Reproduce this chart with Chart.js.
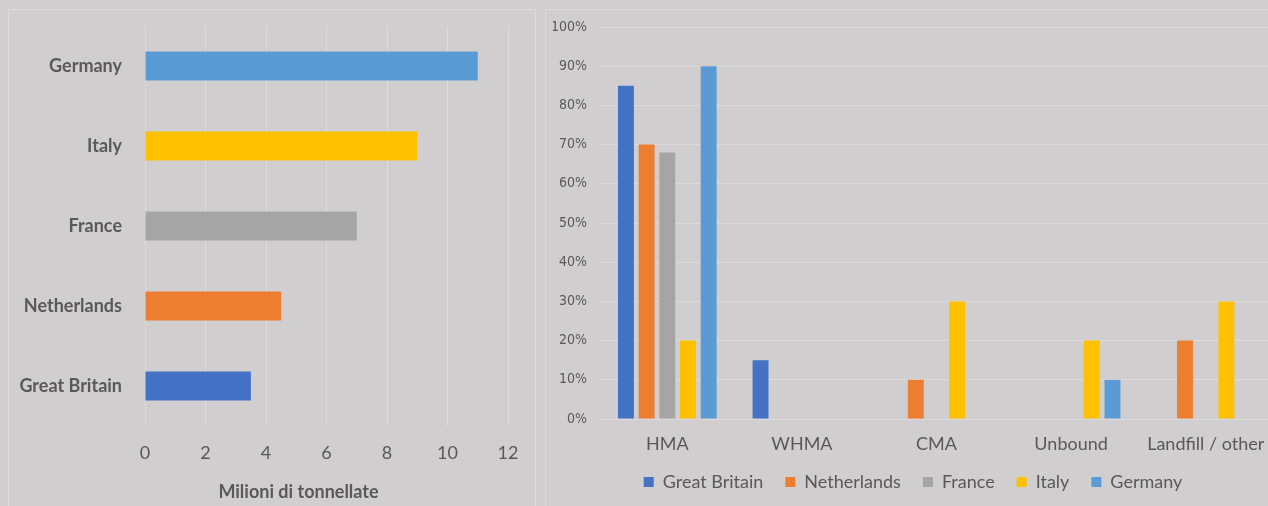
<!DOCTYPE html>
<html>
<head>
<meta charset="utf-8">
<script src="https://cdn.jsdelivr.net/npm/chart.js@4"></script>
<style>
  html, body { margin: 0; padding: 0; width: 1268px; height: 506px; overflow: hidden; background: #d0cecf; }
  .panel { position: absolute; border: 1px solid #dcdada; box-sizing: border-box; }
  canvas { position: absolute; top: 0; }
</style>
</head>
<body>
<div class="panel" style="left:8px; top:9px; width:528px; height:510px;"></div>
<div class="panel" style="left:545px; top:9px; width:740px; height:510px;"></div>
<canvas id="tonnesChart" width="540" height="506" style="left:0"></canvas>
<canvas id="shareChart" width="728" height="501" style="left:545px"></canvas>
<script>
// countries, bottom to top in the left chart, and in legend order
const countries = ["Great Britain", "Netherlands", "France", "Italy", "Germany"];
const countryColors = ["#4472c4", "#ed7d31", "#a5a5a5", "#ffc000", "#5b9bd5"];

// million tonnes per country
const tonnes = [3.5, 4.5, 7, 9, 11];
const tonnesTicks = [0, 2, 4, 6, 8, 10, 12];
const tonnesTitle = "Milioni di tonnellate";

// share of use, per category, one array per country
const uses = ["HMA", "WHMA", "CMA", "Unbound", "Landfill / other"];
const greatBritain = [85, 15, 0, 0, 0];
const netherlands = [70, 0, 10, 0, 20];
const france = [68, 0, 0, 0, 0];
const italy = [20, 0, 30, 20, 30];
const germany = [90, 0, 0, 10, 0];
const shareTicks = [0, 10, 20, 30, 40, 50, 60, 70, 80, 90, 100];

const textColor = "#595959";
const gridColor = "#dcdada";
const mainFont = "Lato, 'Open Sans', sans-serif";
const narrowFont = "'Liberation Sans Narrow', 'DejaVu Sans Condensed', sans-serif";

// no extra room for the outer tick labels, the plot areas are set by hand
const noScalePadding = (scale) => {
    scale.paddingTop = 0;
    scale.paddingBottom = 0;
    scale.paddingLeft = 0;
    scale.paddingRight = 0;
};

// axis title of the left chart sits a bit left of the plot centre
const axisTitlePlugin = {
    id: "axisTitle",
    afterDraw(chart) {
        const { ctx, chartArea } = chart;
        ctx.save();
        ctx.font = "bold 18px " + mainFont;
        ctx.fillStyle = textColor;
        ctx.textAlign = "center";
        ctx.textBaseline = "middle";
        ctx.fillText(tonnesTitle, (chartArea.left + chartArea.right) / 2 - 28, chartArea.bottom + 66);
        ctx.restore();
    }
};

// Left chart: horizontal bars
new Chart(document.getElementById("tonnesChart"), {
    type: "bar",
    data: {
        labels: countries,
        datasets: [{
            data: tonnes,
            backgroundColor: countryColors,
            categoryPercentage: 1,
            barPercentage: 0.36,
        }]
    },
    options: {
        indexAxis: "y",
        responsive: false,
        animation: false,
        layout: { padding: { top: 26, right: 32, left: 0, bottom: 0 } },
        plugins: { legend: { display: false }, tooltip: { enabled: false } },
        scales: {
            y: {
                reverse: true,
                grid: { display: false, drawTicks: false },
                border: { display: false },
                ticks: { color: textColor, padding: 23, font: { family: mainFont, size: 18, weight: "bold" } },
                afterFit: (scale) => { noScalePadding(scale); scale.width = 145; },
            },
            x: {
                min: 0,
                max: 12,
                afterBuildTicks: (scale) => { scale.ticks = tonnesTicks.map(v => ({ value: v })); },
                grid: { color: gridColor, drawTicks: false },
                border: { display: false },
                ticks: { color: textColor, padding: 16, font: { family: mainFont, size: 18 } },
                afterFit: (scale) => { noScalePadding(scale); scale.height = 80; },
            }
        }
    },
    plugins: [axisTitlePlugin]
});

// Right chart: grouped vertical bars
const shareSeries = [greatBritain, netherlands, france, italy, germany];

new Chart(document.getElementById("shareChart"), {
    type: "bar",
    data: {
        labels: uses,
        datasets: countries.map((name, i) => ({
            label: name,
            data: shareSeries[i],
            backgroundColor: countryColors[i],
            categoryPercentage: 0.768,
            barPercentage: 0.77,
        }))
    },
    options: {
        responsive: false,
        animation: false,
        layout: { padding: { top: 27, right: 0, left: 8, bottom: 0 } },
        plugins: {
            tooltip: { enabled: false },
            legend: {
                position: "bottom",
                labels: {
                    color: textColor,
                    boxWidth: 10,
                    boxHeight: 10,
                    padding: 22,
                    font: { family: mainFont, size: 18 },
                }
            }
        },
        scales: {
            x: {
                grid: { display: false, drawTicks: false },
                border: { display: false },
                ticks: { color: textColor, padding: 14, font: { family: mainFont, size: 18 } },
                afterFit: (scale) => { noScalePadding(scale); scale.height = 32; },
            },
            y: {
                min: 0,
                max: 100,
                afterBuildTicks: (scale) => { scale.ticks = shareTicks.map(v => ({ value: v })); },
                grid: { color: gridColor, drawTicks: false },
                border: { display: false },
                ticks: {
                    color: textColor,
                    padding: 13,
                    font: { family: narrowFont, size: 14 },
                    callback: (v) => v + "%",
                },
                afterFit: (scale) => { noScalePadding(scale); scale.width = 47; },
            }
        }
    }
});
</script>
</body>
</html>
